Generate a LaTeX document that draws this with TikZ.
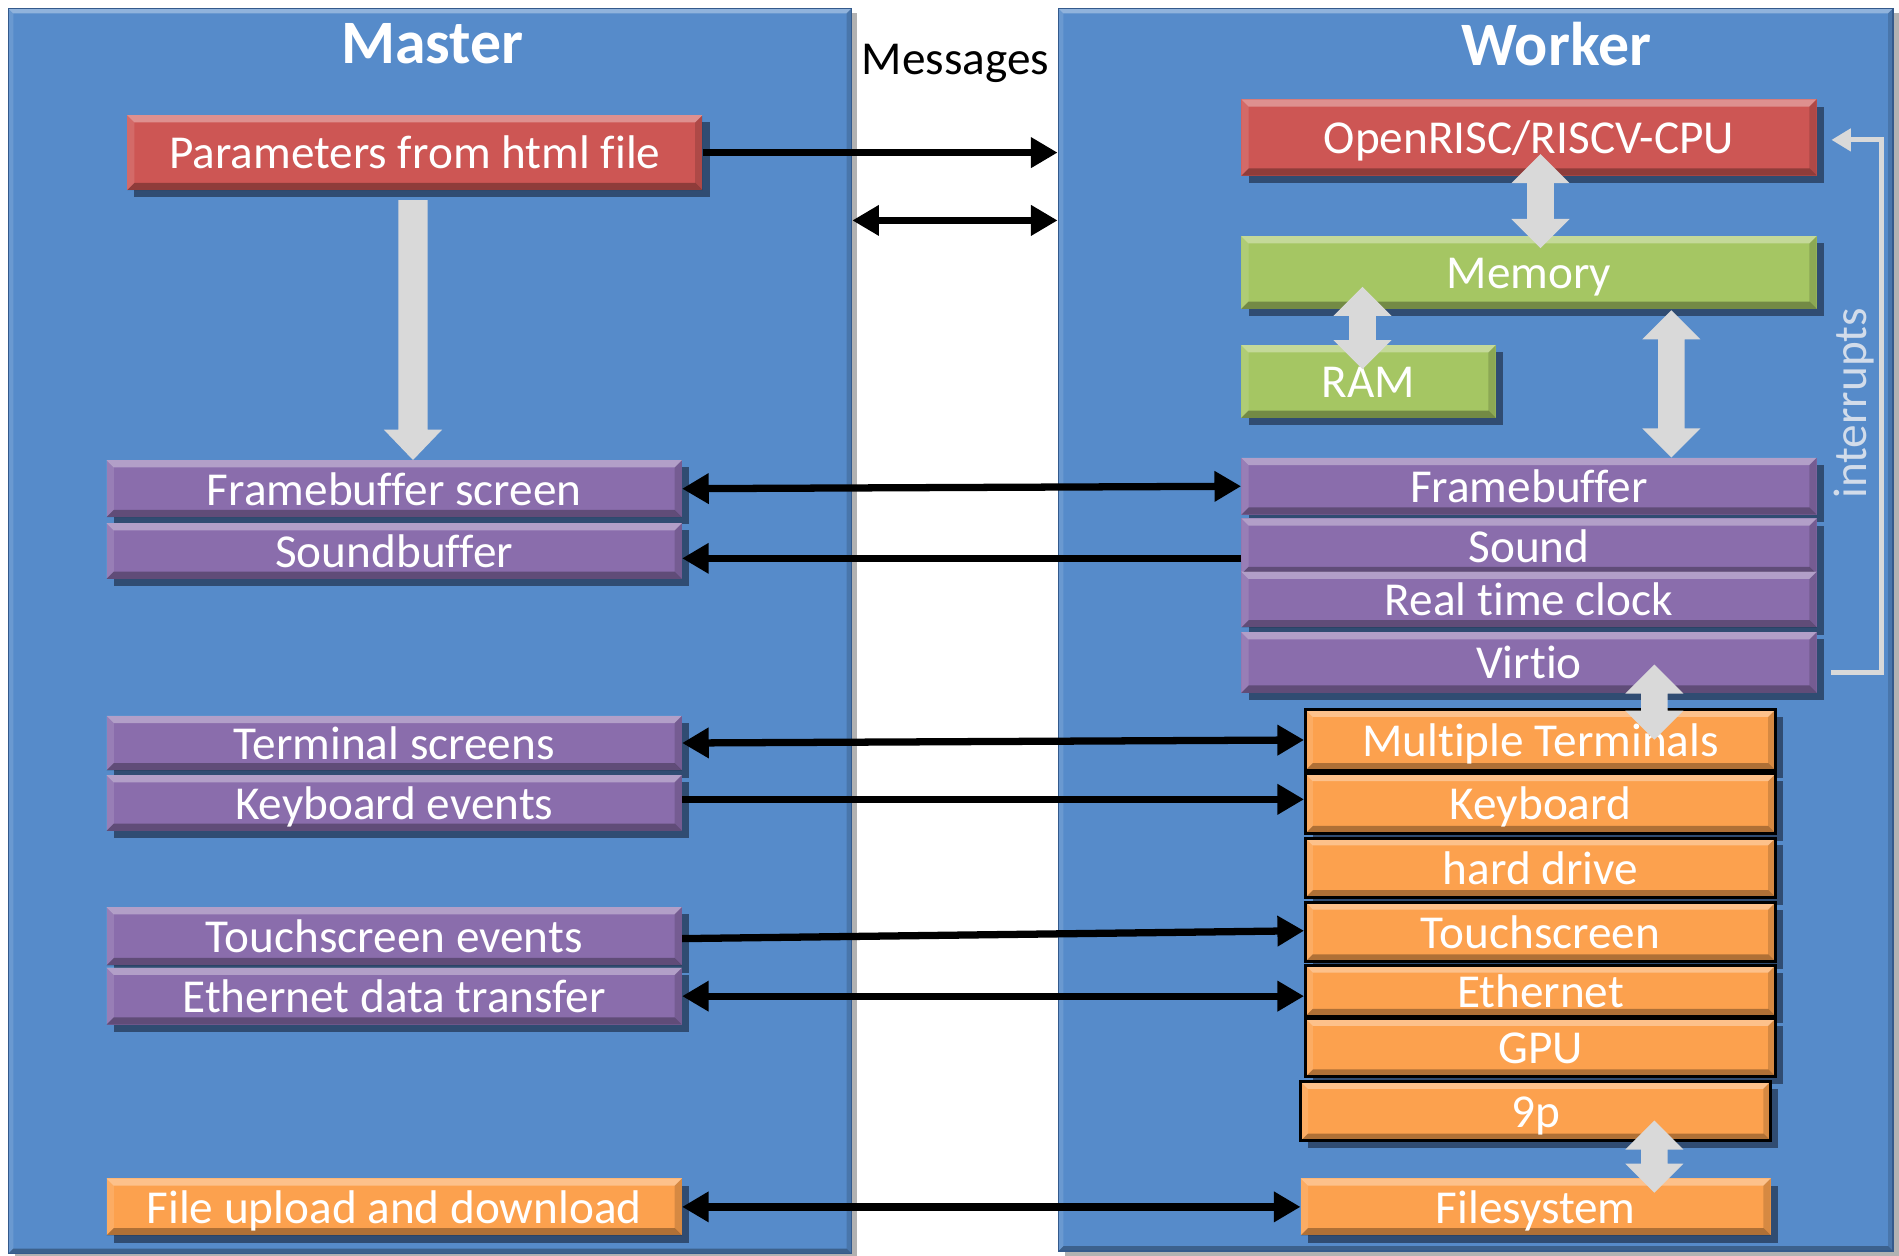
\documentclass[tikz,border=0pt]{standalone}
\usepackage{fontspec}
\setmainfont{Carlito}[Ligatures=NoCommon]
\usetikzlibrary{arrows.meta,calc,shadows}
\definecolor{panelc}{RGB}{86,139,202}
\definecolor{paneld}{RGB}{52,90,140}
\definecolor{redc}{RGB}{205,86,84}
\definecolor{greenc}{RGB}{165,198,99}
\definecolor{purplec}{RGB}{138,109,172}
\definecolor{orangec}{RGB}{252,161,78}
\definecolor{agrey}{RGB}{217,217,217}
\definecolor{shadowc}{RGB}{48,76,114}
\definecolor{intc}{RGB}{210,220,234}
\newcommand\boxfont{\fontsize{39pt}{46pt}\selectfont}
\newcommand\titlefont{\fontsize{51pt}{60pt}\selectfont\bfseries}
\newcommand\vdbl[2]{%
  \fill[agrey] let \p1=#1, \p2=#2 in
   (\x1,\y1) -- (\x1+24pt,\y1-24pt) -- (\x1+11pt,\y1-24pt) -- (\x1+11pt,\y2+24pt)
   -- (\x1+24pt,\y2+24pt) -- (\x1,\y2) -- (\x1-24pt,\y2+24pt) -- (\x1-11pt,\y2+24pt)
   -- (\x1-11pt,\y1-24pt) -- (\x1-24pt,\y1-24pt) -- cycle;}
\tikzset{
  bevelsize/.store in=\bevsz, bevelsize=6pt,
  bevel/.style={path picture={
    \path[fill=white,fill opacity=.35] (path picture bounding box.north west) -- (path picture bounding box.north east) -- ([shift={(-\bevsz,-\bevsz)}]path picture bounding box.north east) -- ([shift={(\bevsz,-\bevsz)}]path picture bounding box.north west) -- cycle;
    \path[fill=white,fill opacity=.12] (path picture bounding box.north west) -- ([shift={(\bevsz,-\bevsz)}]path picture bounding box.north west) -- ([shift={(\bevsz,\bevsz)}]path picture bounding box.south west) -- (path picture bounding box.south west) -- cycle;
    \path[fill=black,fill opacity=.15] (path picture bounding box.north east) -- ([shift={(-\bevsz,-\bevsz)}]path picture bounding box.north east) -- ([shift={(-\bevsz,\bevsz)}]path picture bounding box.south east) -- (path picture bounding box.south east) -- cycle;
    \path[fill=black,fill opacity=.3] (path picture bounding box.south west) -- (path picture bounding box.south east) -- ([shift={(-\bevsz,\bevsz)}]path picture bounding box.south east) -- ([shift={(\bevsz,\bevsz)}]path picture bounding box.south west) -- cycle;
  }},
  panel/.style={fill=panelc, draw=paneld, line width=1.5pt, bevelsize=4pt, bevel,
    drop shadow={shadow xshift=5pt, shadow yshift=-4pt, fill=black!30, opacity=1}},
  blk/.style={bevelsize=6pt, bevel,
    drop shadow={shadow xshift=6pt, shadow yshift=-6pt, fill=shadowc, opacity=1},
    text=white, font=\boxfont, inner sep=0pt, text height=32pt, text depth=5pt},
  redbox/.style={blk, fill=redc},
  greenbox/.style={blk, fill=greenc},
  purplebox/.style={blk, fill=purplec},
  orangebox/.style={blk, fill=orangec},
  termbox/.style={orangebox, draw=black, line width=2.5pt},
  msg/.style={line width=6pt, draw=black},
  bt/.tip={Triangle[length=22pt,width=24pt]},
}
\begin{document}
\begin{tikzpicture}[x=1pt,y=-1pt]
\fill[white] (0,0) rectangle (1568,1037);
\useasboundingbox (0,0) rectangle (1568,1037);

% panels
\node[panel, minimum width=696pt, minimum height=1028pt] (master) at (355,521) {};
\node[panel, minimum width=689pt, minimum height=1026pt] (worker) at (1218.5,520) {};
\node[text=white, font=\titlefont] (mtitle) at (357,36) {Master};
\node[text=white, font=\titlefont] (wtitle) at (1285,36) {Worker};
\node[text=black, font=\boxfont] (messages) at (789,52) {Messages};

% master boxes
\node[redbox, minimum width=475pt, minimum height=62pt] (params) at (342.5,126) {Parameters from html file};
\node[purplebox, minimum width=475pt, minimum height=47pt] (fbs) at (325.5,403.5) {Framebuffer screen};
\node[purplebox, minimum width=475pt, minimum height=46pt] (sbuf) at (325.5,455) {Soundbuffer};
\node[purplebox, minimum width=475pt, minimum height=45pt] (terms) at (325.5,613.5) {Terminal screens};
\node[purplebox, minimum width=475pt, minimum height=46pt] (kbev) at (325.5,663) {Keyboard events};
\node[purplebox, minimum width=475pt, minimum height=48pt] (touchev) at (325.5,773) {Touchscreen events};
\node[purplebox, minimum width=475pt, minimum height=47pt] (ethdt) at (325.5,822.5) {Ethernet data transfer};
\node[orangebox, minimum width=475pt, minimum height=47pt] (fileud) at (325.5,996.5) {File upload and download};

% worker boxes
\node[redbox, minimum width=475pt, minimum height=63pt] (cpu) at (1262.5,113.5) {OpenRISC/RISCV-CPU};
\node[greenbox, minimum width=475pt, minimum height=60pt] (mem) at (1262.5,225) {Memory};
\node[greenbox, minimum width=210pt, minimum height=60pt] (ram) at (1130,315) {RAM};
\node[purplebox, minimum width=475pt, minimum height=47pt] (fb) at (1262.5,401.5) {Framebuffer};
\node[purplebox, minimum width=475pt, minimum height=46pt] (snd) at (1262.5,451) {Sound};
\node[purplebox, minimum width=475pt, minimum height=46pt] (rtc) at (1262.5,495) {Real time clock};
\node[purplebox, minimum width=475pt, minimum height=50pt] (virtio) at (1262.5,547) {Virtio};
\node[termbox, minimum width=388pt, minimum height=50pt] (mterm) at (1272,611) {Multiple Terminals};
\node[termbox, minimum width=388pt, minimum height=49pt] (kbd) at (1272,663.5) {Keyboard};
\node[termbox, minimum width=388pt, minimum height=49pt] (hdd) at (1272,716.5) {hard drive};
\node[termbox, minimum width=388pt, minimum height=49pt] (touch) at (1272,769.5) {Touchscreen};
\node[termbox, minimum width=388pt, minimum height=42pt] (eth) at (1272,818) {Ethernet};
\node[termbox, minimum width=388pt, minimum height=48pt] (gpu) at (1272,865) {GPU};
\node[termbox, minimum width=388pt, minimum height=49pt] (ninep) at (1268,917.5) {9p};
\node[orangebox, minimum width=388pt, minimum height=47pt] (fs) at (1268,996.5) {Filesystem};

% interrupts
\draw[line width=4pt, agrey, -{Triangle[length=16pt,width=18pt]}]
  ($(virtio.east)+(12,8)$) -| ($(cpu.east)+(53,2)$) -- ($(cpu.east)+(12,2)$);
\node[rotate=90, text=intc, font=\boxfont] (intlabel) at (1531,333) {interrupts};

% grey block arrows
\fill[agrey] let \p1=($(params.south)+(-1.5,8)$), \p2=(fbs.north) in
  (\x1-12pt,\y1) -- (\x1+12pt,\y1) -- (\x1+12pt,\y2+25pt) -- (\x1+24pt,\y2+25pt)
  -- (\x1,\y2) -- (\x1-24pt,\y2+25pt) -- (\x1-12pt,\y2+25pt) -- cycle;
\vdbl{($(cpu.south)+(9.5,-18)$)}{($(mem.north)+(9.5,10)$)}
\vdbl{($(ram.north)+(-5,-48)$)}{($(ram.north)+(-5,20)$)}
\vdbl{($(mem.south)+(117.5,1)$)}{($(fb.north)+(117.5,0)$)}
\vdbl{($(mterm.north)+(94,-36)$)}{($(mterm.north)+(94,26)$)}
\vdbl{($(ninep.south)+(98,-18)$)}{($(fs.north)+(98,12)$)}

% message arrows
\coordinate (m2) at (0,182);
\draw[msg, -bt] (params.east) -- (params.east -| worker.west);
\draw[msg, bt-bt] (master.east |- m2) -- (worker.west |- m2);
\draw[msg, bt-bt] (fbs.east) -- (fb.west);
\draw[msg, -bt] ($(snd.west)+(0,10)$) -- ($(sbuf.east)+(0,6)$);
\draw[msg, bt-bt] (terms.east) -- (mterm.west);
\draw[msg, -bt] ($(kbev.east)+(0,-3)$) -- ($(kbd.west)+(0,-3.5)$);
\draw[msg, -bt] ($(touchev.east)+(0,2)$) -- ($(touch.west)+(0,-1)$);
\draw[msg, bt-bt] (ethdt.east) -- (eth.west |- ethdt.east);
\draw[msg, bt-bt] (fileud.east) -- (fs.west);
\end{tikzpicture}
\end{document}
